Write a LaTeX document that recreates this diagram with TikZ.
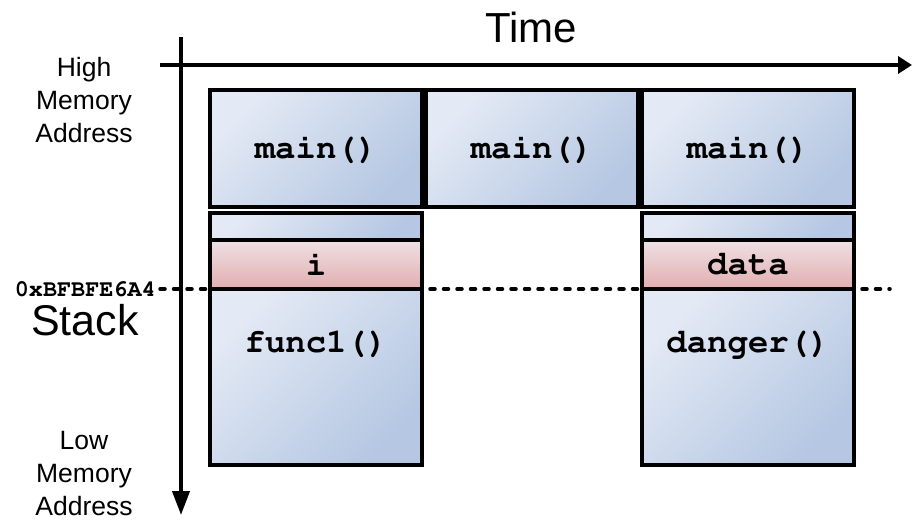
\documentclass[tikz,border=0pt]{standalone}
\usepackage[T1,TU]{fontenc}
\usepackage{fontspec}
\setmainfont{Liberation Sans}
\usetikzlibrary{arrows.meta, positioning}

\definecolor{boxlight}{RGB}{228,234,245}
\definecolor{boxdark}{RGB}{181,199,226}
\definecolor{varlight}{RGB}{238,224,228}
\definecolor{vardark}{RGB}{226,174,176}

\newcommand\codefont{\fontencoding{T1}\fontfamily{pcr}\fontseries{b}\selectfont}

\begin{document}
\begin{tikzpicture}[
	x=1pt, y=-1pt,
	frame/.style={rectangle, draw=black, line width=3.5pt, inner sep=0pt, minimum width=212pt, shading=axis, top color=boxlight, bottom color=boxdark, shading angle=45},
	var/.style={frame, top color=varlight, bottom color=vardark},
	code/.style={font=\fontsize{34}{40}\codefont},
	note/.style={font=\fontsize{26.5}{33}\selectfont, align=center, inner sep=0pt},
	axis/.style={line width=4pt, -{Triangle[length=24pt, width=17pt]}},
	marker/.style={line width=3.5pt, line cap=round, dash pattern=on 5pt off 8.5pt}
	]
	\useasboundingbox (0,0) rectangle (912,525);
	
	% Address marker
	\node[font=\fontsize{23.5}{28}\codefont, inner sep=0pt, anchor=east] (addr) at (156,289) {0xBFBFE6A4};
	\coordinate (markend) at (890,289);
	\draw[marker] (addr.east) ++(4,0) -- (markend);
	
	% Axes
	\coordinate (tstart) at (160,65);
	\coordinate (tend) at (912,65);
	\coordinate (mtop) at (181,37);
	\coordinate (mbot) at (181,515);
	\draw[line width=4pt, -{Triangle[length=14pt, width=17pt]}] (tstart) -- (tend);
	\draw[axis] (mtop) -- (mbot);
	
	% Axis labels
	\node[font=\fontsize{42}{50}\selectfont, inner sep=0pt] (time) at (531,27) {Time};
	\node[font=\fontsize{43}{50}\selectfont, inner sep=0pt] (stack) at (85,320) {Stack};
	\node[note, anchor=north] (high) at (84,57) {High\\Memory\\Address};
	\node[note, anchor=north] (low) at (84,431) {Low\\Memory\\Address};
	
	% main() frames
	\node[frame, code, minimum height=117pt] (main1) at (316,148.5) {main()};
	\node[frame, code, minimum height=117pt] (main2) at (532,148.5) {main()};
	\node[frame, code, minimum height=117pt] (main3) at (748,148.5) {main()};
	
	% func1() frame
	\node[frame, minimum height=27pt] (f1top) at (316,226.5) {};
	\node[frame, minimum height=176pt] (f1body) at (316,377) {};
	\node[var, code, minimum height=49pt] (f1var) at (316,264.5) {i};
	\node[code, inner sep=0pt, anchor=base] (f1name) at (316,352) {func1()};
	
	% danger() frame
	\node[frame, minimum height=27pt] (dgtop) at (748,226.5) {};
	\node[frame, minimum height=176pt] (dgbody) at (748,377) {};
	\node[var, code, minimum height=49pt] (dgvar) at (748,264.5) {data};
	\node[code, inner sep=0pt, anchor=base] (dgname) at (748,352) {danger()};
	
\end{tikzpicture}
\end{document}
